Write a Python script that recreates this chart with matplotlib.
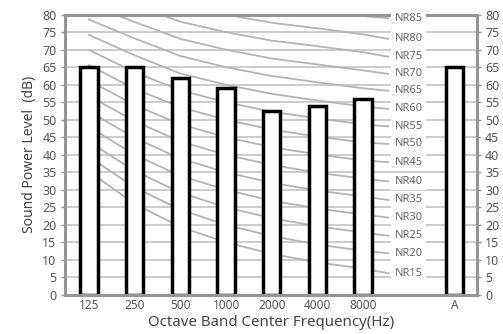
import matplotlib
matplotlib.use("Agg")
import matplotlib.pyplot as plt

# bar data
bands = ["125", "250", "500", "1000", "2000", "4000", "8000", "A"]
band_pos = [0, 1, 2, 3, 4, 5, 6, 8]
levels = [65, 65, 62, 59, 52.5, 54, 56, 65]

# NR curves (values at 125..8000 Hz), then the end point next to the label
nr_names = ["NR15", "NR20", "NR25", "NR30", "NR35", "NR40", "NR45", "NR50",
            "NR55", "NR60", "NR65", "NR70", "NR75", "NR80", "NR85"]
nr_values = [
    [35.2, 26.0, 19.4, 15.0, 11.7, 9.3, 7.5],
    [39.4, 30.7, 24.3, 20.0, 16.8, 14.4, 12.6],
    [43.7, 35.4, 29.2, 25.0, 21.9, 19.6, 17.8],
    [48.0, 40.0, 34.0, 30.0, 26.9, 24.7, 22.9],
    [52.4, 44.8, 38.9, 35.0, 32.0, 29.8, 28.1],
    [56.8, 49.6, 43.8, 40.0, 37.1, 34.9, 33.2],
    [61.2, 54.2, 48.7, 45.0, 42.2, 40.1, 38.4],
    [65.6, 58.8, 53.6, 50.0, 47.2, 45.2, 43.5],
    [69.9, 63.6, 58.4, 55.0, 52.3, 50.4, 48.7],
    [74.2, 68.4, 63.2, 60.0, 57.4, 55.5, 53.8],
    [78.6, 73.2, 68.2, 65.0, 62.5, 60.7, 59.0],
    [82.9, 77.9, 73.1, 70.0, 67.5, 65.8, 64.1],
    [87.3, 82.6, 78.0, 75.0, 72.6, 71.0, 69.3],
    [91.6, 87.3, 82.9, 80.0, 77.7, 76.1, 74.4],
    [96.0, 92.0, 87.8, 85.0, 82.8, 81.3, 79.6],
]
nr_label_y = [6.2, 11.9, 16.9, 22.1, 27.1, 32.4, 37.9, 43.1,
              48.1, 53.1, 58.3, 63.1, 68.0, 73.1, 79.0]
curve_x = [0, 1, 2, 3, 4, 5, 6, 6.55]
label_x = 7.0

plt.rcParams["font.family"] = ["Noto Sans", "DejaVu Sans"]

fig = plt.figure(figsize=(5.03, 3.34), dpi=100)
ax = fig.add_axes([0.129, 0.117, 0.819, 0.839])

grid_c = "#c4c4c4"
spine_c = "#959595"

for y in range(5, 80, 5):
    ax.axhline(y, color=grid_c, lw=1.2, zorder=1)

for vals, ly in zip(nr_values, nr_label_y):
    ax.plot(curve_x, vals + [ly], color="#b4b4b4", lw=1.3, zorder=2)

# labels sit over the grid and the top spine
for name, ly in zip(nr_names, nr_label_y):
    ax.text(label_x, ly, name, ha="center", va="center", fontsize=8,
            color="#666666", zorder=6,
            bbox=dict(boxstyle="square,pad=0.3", fc="white", ec="none"))

ax.bar(band_pos, levels, width=0.38, color="white", edgecolor="black",
       linewidth=2.5, zorder=4)

ax.set_xlim(-0.53, 8.49)
ax.set_ylim(0, 80)
ax.set_yticks(range(0, 81, 5))
ax.set_xticks(band_pos)
ax.set_xticklabels(bands)

ax.tick_params(axis="x", length=0, labelsize=8.5, labelcolor="#555555", pad=3)
ax.tick_params(axis="y", length=3, width=1, color=spine_c, labelsize=9,
               labelcolor="#555555", right=True, labelright=True, pad=3)

for side in ["left", "right", "bottom", "top"]:
    ax.spines[side].set_color(spine_c)
    ax.spines[side].set_linewidth(2.2)
    ax.spines[side].set_zorder(5)

ax.set_ylabel("Sound Power Level  (dB)", fontsize=10, color="#444444",
              labelpad=4)
ax.set_xlabel("Octave Band Center Frequency(Hz)", fontsize=10.8,
              color="#444444", labelpad=2)

fig.savefig("out.png", dpi=100)
